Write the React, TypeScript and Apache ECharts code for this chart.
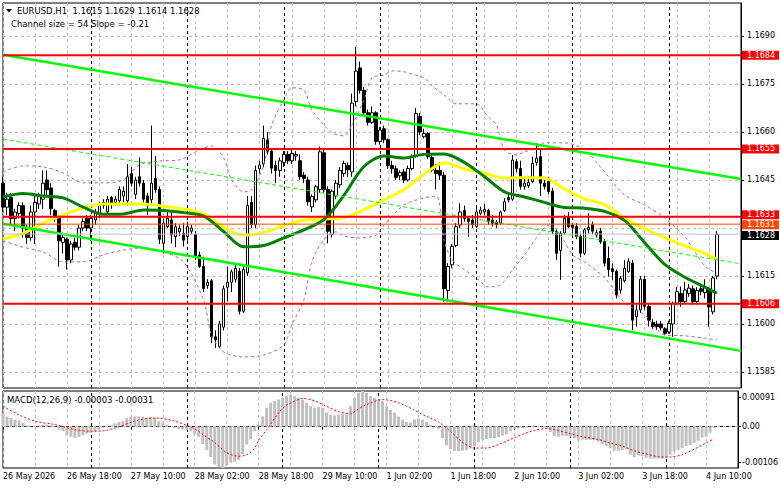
import { useEffect, useRef } from 'react';
import * as echarts from 'echarts';

const FONT = 'DejaVu Sans';
const BAR_SLOTS = 185;

const xTickLabels = ['26 May 2026', '26 May 18:00', '27 May 10:00', '28 May 02:00', '28 May 18:00', '29 May 10:00', '1 Jun 02:00', '1 Jun 18:00', '2 Jun 10:00', '3 Jun 02:00', '3 Jun 18:00', '4 Jun 10:00'];
const dayBreakBars = [22, 46, 70, 94, 118, 142, 166];
const priceGridTicks = [1.1585, 1.16, 1.1615, 1.163, 1.1645, 1.166, 1.1675, 1.169];
const priceLabelTicks = [1.1585, 1.16, 1.1615, 1.1645, 1.166, 1.1675, 1.169];
const priceMin = 1.158;
const priceMax = 1.17003;
const macdMin = -0.00106;
const macdMax = 0.00091;

const opens = [
  1.1644, 1.16365, 1.16395, 1.1633, 1.16345, 1.1637, 1.163, 1.1627, 1.1635, 1.16375,
  1.1639, 1.1645, 1.16425, 1.16355, 1.1633, 1.16255, 1.16265, 1.162, 1.16255, 1.1624,
  1.163, 1.1633, 1.163, 1.16325, 1.16345, 1.1637, 1.1635, 1.16395, 1.1638, 1.16385,
  1.164, 1.16385, 1.1647, 1.16405, 1.1646, 1.1644, 1.164, 1.16388, 1.16455, 1.1642,
  1.16252, 1.16304, 1.16325, 1.16273, 1.16288, 1.16283, 1.16273, 1.1629, 1.1628, 1.16215,
  1.1618, 1.1612, 1.16135, 1.1596, 1.1593, 1.1599, 1.16115, 1.1613, 1.1614, 1.16165,
  1.1604, 1.1616, 1.1638, 1.1631, 1.16485, 1.165, 1.16575, 1.1654, 1.16495, 1.1648,
  1.16505, 1.1653, 1.1651, 1.16525, 1.1651, 1.16465, 1.1645, 1.16366, 1.16388, 1.1642,
  1.16535, 1.1642, 1.1628, 1.164, 1.16435, 1.1647, 1.16495, 1.16475, 1.16695, 1.168,
  1.1673, 1.1666, 1.1663, 1.1666, 1.1657, 1.1661, 1.16576, 1.16495, 1.16485, 1.16463,
  1.16475, 1.1645, 1.16486, 1.16525, 1.16648, 1.16585, 1.16595, 1.1652, 1.1648, 1.1648,
  1.16465, 1.16105, 1.16185, 1.16245, 1.16309, 1.16355, 1.1633, 1.16325, 1.16305, 1.16346,
  1.1635, 1.16355, 1.16325, 1.16318, 1.16315, 1.16355, 1.16395, 1.1639, 1.16507, 1.16486,
  1.1643, 1.16432, 1.16445, 1.16505, 1.16523, 1.1644, 1.16445, 1.16415, 1.1629, 1.1623,
  1.16285, 1.16335, 1.16309, 1.16305, 1.16273, 1.16221, 1.16295, 1.1631, 1.16278, 1.1629,
  1.16257, 1.16205, 1.16173, 1.16164, 1.16106, 1.16135, 1.16164, 1.1619, 1.16023, 1.16044,
  1.1614, 1.16055, 1.16005, 1.16, 1.16, 1.15985, 1.15975, 1.16, 1.16065, 1.16095,
  1.1607, 1.16095, 1.1611, 1.1607, 1.1611, 1.16098, 1.1611, 1.16038, 1.1615,
];
const highs = [
  1.1646, 1.1641, 1.1641, 1.1636, 1.1638, 1.1638, 1.1631, 1.1637, 1.164, 1.1641,
  1.1648, 1.1648, 1.1644, 1.1636, 1.1634, 1.1628, 1.1627, 1.1626, 1.1627, 1.1631,
  1.1633, 1.1634, 1.1634, 1.1636, 1.1638, 1.1639, 1.164, 1.164, 1.164, 1.1643,
  1.1643, 1.165, 1.1649, 1.1646, 1.1652, 1.1645, 1.1641, 1.1662, 1.16525, 1.1643,
  1.1633, 1.1635, 1.16356, 1.16315, 1.1631, 1.16315, 1.1632, 1.1631, 1.1629, 1.16226,
  1.1621, 1.1614, 1.1614, 1.1598, 1.1601, 1.1612, 1.1618, 1.1617, 1.1619, 1.16175,
  1.1618, 1.164, 1.164, 1.16495, 1.1651, 1.1662, 1.166, 1.1655, 1.1651, 1.1652,
  1.1654, 1.1654, 1.16545, 1.1654, 1.1653, 1.16475, 1.1646, 1.16405, 1.16435, 1.16554,
  1.1655, 1.1643, 1.1642, 1.1645, 1.1649, 1.1651, 1.16505, 1.1672, 1.16865, 1.1682,
  1.1674, 1.1667, 1.1668, 1.16665, 1.16615, 1.1662, 1.1658, 1.1651, 1.16495, 1.1648,
  1.16485, 1.16495, 1.1653, 1.16675, 1.1666, 1.1661, 1.166, 1.1653, 1.165, 1.16505,
  1.16475, 1.1619, 1.1625, 1.16315, 1.16377, 1.1637, 1.16335, 1.1634, 1.16372, 1.16367,
  1.16375, 1.1636, 1.1634, 1.16325, 1.16355, 1.16393, 1.1641, 1.16528, 1.16515, 1.1651,
  1.16455, 1.1646, 1.16523, 1.16565, 1.1655, 1.1645, 1.1646, 1.16425, 1.16295, 1.1629,
  1.1634, 1.1635, 1.16315, 1.16315, 1.1628, 1.163, 1.16346, 1.1632, 1.16295, 1.163,
  1.16265, 1.16242, 1.16189, 1.1617, 1.1615, 1.162, 1.16205, 1.162, 1.16059, 1.1615,
  1.1615, 1.16065, 1.16015, 1.1601, 1.1601, 1.1599, 1.1601, 1.1607, 1.16115, 1.16117,
  1.16132, 1.16125, 1.1612, 1.16115, 1.1612, 1.1614, 1.16115, 1.1615, 1.1629,
];
const lows = [
  1.1635, 1.1634, 1.1631, 1.1629, 1.1633, 1.1627, 1.1625, 1.1626, 1.1625, 1.1636,
  1.1636, 1.164, 1.1634, 1.1632, 1.1618, 1.1622, 1.1617, 1.1619, 1.1623, 1.1623,
  1.1629, 1.1629, 1.1626, 1.1631, 1.1633, 1.1636, 1.1634, 1.1636, 1.1637, 1.1637,
  1.1638, 1.1637, 1.1643, 1.1639, 1.1643, 1.1638, 1.1634, 1.1637, 1.1641, 1.1625,
  1.1622, 1.163, 1.16252, 1.1624, 1.16275, 1.16242, 1.1626, 1.1628, 1.162, 1.16175,
  1.161, 1.1611, 1.1594, 1.15925, 1.15925, 1.1598, 1.1607, 1.161, 1.1613, 1.1603,
  1.16035, 1.1615, 1.163, 1.163, 1.1647, 1.1649, 1.1653, 1.1647, 1.1644, 1.1646,
  1.1649, 1.165, 1.165, 1.1651, 1.1645, 1.1644, 1.1637, 1.1635, 1.1638, 1.1641,
  1.1641, 1.16252, 1.1627, 1.1639, 1.16425, 1.1646, 1.1646, 1.1646, 1.1668, 1.1672,
  1.1665, 1.1662, 1.16625, 1.1656, 1.1656, 1.16565, 1.16485, 1.1647, 1.1645, 1.1645,
  1.1644, 1.16445, 1.1648, 1.1652, 1.1659, 1.1658, 1.16515, 1.16475, 1.1642, 1.1645,
  1.1607, 1.1607, 1.16174, 1.1624, 1.163, 1.1632, 1.16273, 1.163, 1.163, 1.1634,
  1.1634, 1.1631, 1.16305, 1.163, 1.1631, 1.1635, 1.1638, 1.16385, 1.16475, 1.1642,
  1.1642, 1.16425, 1.1644, 1.16495, 1.164, 1.1642, 1.16405, 1.1628, 1.162, 1.16138,
  1.1628, 1.163, 1.16273, 1.16265, 1.1621, 1.16215, 1.16283, 1.1628, 1.1627, 1.1625,
  1.1618, 1.16148, 1.16138, 1.1608, 1.16095, 1.1613, 1.1616, 1.15981, 1.15992, 1.16035,
  1.16045, 1.15992, 1.15985, 1.15982, 1.1598, 1.15965, 1.1597, 1.1596, 1.1606, 1.16054,
  1.16065, 1.16085, 1.1606, 1.1606, 1.1609, 1.1608, 1.15991, 1.1603, 1.1614,
];
const closes = [
  1.16365, 1.1639, 1.1633, 1.1635, 1.1637, 1.163, 1.1627, 1.1635, 1.1638, 1.164,
  1.1644, 1.1642, 1.1636, 1.1633, 1.1626, 1.1627, 1.162, 1.1625, 1.1624, 1.163,
  1.1632, 1.163, 1.1633, 1.1635, 1.1637, 1.1638, 1.1639, 1.16375, 1.1639, 1.1642,
  1.16415, 1.1646, 1.1644, 1.1645, 1.1644, 1.1639, 1.1637, 1.1644, 1.1642, 1.16265,
  1.16315, 1.1633, 1.16278, 1.16304, 1.16299, 1.16262, 1.16304, 1.163, 1.1621, 1.1618,
  1.16111, 1.1613, 1.1596, 1.1595, 1.16, 1.1611, 1.1613, 1.16163, 1.16174, 1.1604,
  1.1617, 1.1637, 1.1631, 1.1648, 1.16497, 1.1658, 1.1654, 1.16487, 1.1648, 1.1651,
  1.1653, 1.1651, 1.16533, 1.1653, 1.1646, 1.16455, 1.16382, 1.16398, 1.16429, 1.16538,
  1.1642, 1.1629, 1.16415, 1.1644, 1.1648, 1.16502, 1.16482, 1.1669, 1.1679, 1.1673,
  1.1666, 1.1663, 1.1666, 1.1657, 1.16606, 1.16576, 1.16495, 1.16485, 1.16458, 1.16473,
  1.1645, 1.16486, 1.16523, 1.16658, 1.166, 1.16595, 1.16523, 1.16481, 1.1647, 1.16465,
  1.1611, 1.1618, 1.16242, 1.16304, 1.1635, 1.1633, 1.1632, 1.1631, 1.1635, 1.16356,
  1.16358, 1.1632, 1.16315, 1.1631, 1.1635, 1.16382, 1.16388, 1.16512, 1.16486, 1.1643,
  1.1644, 1.16442, 1.16502, 1.16518, 1.1644, 1.1643, 1.16414, 1.1629, 1.16221, 1.16283,
  1.1633, 1.16304, 1.16302, 1.16273, 1.16221, 1.16294, 1.16302, 1.1629, 1.16285, 1.16257,
  1.1619, 1.1617, 1.16164, 1.16091, 1.16143, 1.16174, 1.16195, 1.16012, 1.16044, 1.1614,
  1.16055, 1.16012, 1.15992, 1.15992, 1.15988, 1.15971, 1.16002, 1.16065, 1.16101, 1.1607,
  1.16106, 1.16112, 1.1607, 1.16105, 1.16102, 1.16115, 1.16053, 1.16144, 1.1628,
];

const macdValues = [
  0.00035, 0.00026, 0.00022, 0.00018, 0.00016, 0.00009, 0.00003, 0.00001, 0.0, 0.00003,
  0.00005, 0.00005, 0.00003, -0.00001, -0.00008, -0.00012, -0.00023, -0.00026, -0.00029, -0.00026,
  -0.00023, -0.00018, -0.00016, -0.00012, -0.00009, -0.00003, 0.00001, 0.00003, 0.00008, 0.00012,
  0.00014, 0.00022, 0.00025, 0.00026, 0.00026, 0.00025, 0.00022, 0.00025, 0.00022, 0.00014,
  0.00009, 0.00005, 0.00001, -0.00003, -0.00006, -0.00008, -0.00009, -0.00012, -0.0002, -0.00026,
  -0.00045, -0.0006, -0.00078, -0.00097, -0.00104, -0.00106, -0.001, -0.00092, -0.0009, -0.00085,
  -0.0007, -0.00046, -0.00033, -0.00012, 0.00005, 0.00026, 0.00048, 0.00061, 0.00065, 0.00069,
  0.00073, 0.00078, 0.00082, 0.00078, 0.00073, 0.00069, 0.00061, 0.00052, 0.00048, 0.0005,
  0.00048, 0.00036, 0.0003, 0.00028, 0.00031, 0.00033, 0.00031, 0.00052, 0.00073, 0.00086,
  0.00091, 0.00086, 0.00078, 0.00073, 0.00069, 0.00065, 0.00052, 0.00043, 0.00035, 0.00026,
  0.00018, 0.00012, 0.0001, 0.00018, 0.0002, 0.00018, 0.00012, 0.00004, -0.00002, -0.00006,
  -0.0003, -0.00048, -0.00058, -0.00062, -0.00063, -0.00062, -0.0006, -0.00056, -0.0005, -0.0004,
  -0.00034, -0.00032, -0.0003, -0.0003, -0.00027, -0.00023, -0.0002, -0.00012, -0.00006, -0.00005,
  -0.00004, -0.00003, 0.0, 0.00003, 0.00001, -0.00002, -0.00004, -0.00014, -0.00024, -0.00026,
  -0.00024, -0.00024, -0.00026, -0.0003, -0.00036, -0.00034, -0.00034, -0.00034, -0.00035, -0.00038,
  -0.00045, -0.0005, -0.00054, -0.00062, -0.00062, -0.0006, -0.00058, -0.00072, -0.00078, -0.00074,
  -0.00076, -0.0008, -0.00082, -0.00082, -0.00082, -0.00082, -0.0008, -0.00072, -0.00064, -0.0006,
  -0.00055, -0.0005, -0.00048, -0.00042, -0.00036, -0.00028, -0.00026, -0.00016, -0.00003,
];

const signalPoints = [
  [0, 0.00052], [4, 0.0003], [8, 0.00014], [13, 0.00005], [18, -0.00008], [22, -0.00012], [25, -0.00011],
  [28, -0.00004], [33, 0.00014], [38, 0.00022], [43, 0.00014], [48, -0.00006], [50, -0.0002], [53, -0.00041],
  [56, -0.00067], [59, -0.00076], [61, -0.00072], [63, -0.00055], [64, -0.00035], [66, -0.00008], [69, 0.00035],
  [71, 0.00055], [73, 0.00065], [75, 0.00072], [78, 0.00066], [81, 0.00052], [84, 0.00038], [87, 0.00033],
  [89, 0.00045], [91, 0.00056], [95, 0.00069], [99, 0.00061], [103, 0.00042], [106, 0.00026], [109, 0.00012],
  [112, -0.00012], [115, -0.0004], [118, -0.00055], [121, -0.00055], [124, -0.00046], [127, -0.00033],
  [130, -0.0002], [133, -0.0001], [136, -0.00005], [139, -0.0001], [142, -0.00018], [145, -0.00026],
  [149, -0.00033], [152, -0.00042], [155, -0.0005], [158, -0.00062], [161, -0.0007], [164, -0.00077],
  [167, -0.00078], [170, -0.00072], [173, -0.00058], [176, -0.00042], [178, -0.00031],
];

const yellowMaPoints = [
  [0, 1.16265], [5, 1.16283], [10, 1.16315], [15, 1.16341], [20, 1.16362], [25, 1.16375], [30, 1.16375],
  [35, 1.16375], [40, 1.16368], [45, 1.16359], [50, 1.16344], [55, 1.16303], [60, 1.16277], [65, 1.16286],
  [70, 1.16307], [75, 1.16324], [80, 1.16328], [85, 1.16333], [90, 1.16357], [95, 1.16388], [100, 1.1642],
  [105, 1.16468], [110, 1.16504], [115, 1.16485], [120, 1.16471], [125, 1.16456], [130, 1.16458],
  [135, 1.16456], [140, 1.16422], [145, 1.16391], [150, 1.16373], [155, 1.1633], [160, 1.16297],
  [165, 1.1627], [170, 1.16244], [175, 1.16221], [178, 1.16202],
];
const greenMaPoints = [
  [0, 1.16397], [5, 1.16408], [10, 1.164], [15, 1.16394], [20, 1.16365], [25, 1.16343], [30, 1.16344],
  [35, 1.16356], [40, 1.16355], [45, 1.16348], [50, 1.16338], [55, 1.16289], [60, 1.16241], [65, 1.16245],
  [70, 1.16269], [75, 1.16294], [80, 1.16326], [85, 1.16402], [90, 1.16492], [95, 1.16525], [100, 1.16519],
  [105, 1.1653], [110, 1.16531], [115, 1.16505], [120, 1.16461], [125, 1.16413], [130, 1.16397],
  [135, 1.1638], [140, 1.16364], [145, 1.16362], [150, 1.16352], [155, 1.16323], [160, 1.16254],
  [165, 1.16186], [170, 1.16146], [175, 1.16115], [178, 1.16096],
];
const upperBandPoints = [
  [0, 1.16475], [5, 1.16494], [10, 1.16491], [15, 1.16472], [20, 1.16441], [25, 1.16441], [30, 1.1645],
  [34, 1.16497], [39, 1.16509], [44, 1.16513], [49, 1.16544], [52, 1.16556], [55, 1.16519], [57, 1.1645],
  [60, 1.16413], [62, 1.16419], [65, 1.16497], [67, 1.16622], [70, 1.167], [72, 1.16738], [75, 1.16731],
  [77, 1.16669], [80, 1.16622], [82, 1.16597], [85, 1.16588], [87, 1.16622], [90, 1.167], [92, 1.16769],
  [95, 1.16778], [97, 1.16791], [100, 1.16788], [102, 1.16781], [105, 1.16769], [107, 1.16744], [110, 1.16716],
  [113, 1.16688], [118, 1.16688], [121, 1.16647], [123, 1.16622], [125, 1.16544], [128, 1.16528], [130, 1.16538],
  [133, 1.1655], [135, 1.16566], [140, 1.16566], [145, 1.16544], [150, 1.16475], [155, 1.16403], [160, 1.16372],
  [165, 1.16331], [170, 1.16272], [175, 1.16181], [178, 1.16159],
];
const lowerBandPoints = [
  [0, 1.1626], [5, 1.1624], [10, 1.16225], [15, 1.16194], [20, 1.16194], [25, 1.16216], [30, 1.16231],
  [35, 1.16238], [40, 1.16225], [45, 1.16194], [50, 1.16075], [52, 1.15966], [55, 1.15913], [60, 1.15897],
  [65, 1.15903], [70, 1.15934], [72, 1.15997], [75, 1.16075], [77, 1.16194], [80, 1.16263], [83, 1.16288],
  [85, 1.16275], [89, 1.16269], [93, 1.16278], [95, 1.16309], [100, 1.16372], [105, 1.16394], [108, 1.164],
  [110, 1.1626], [112, 1.162], [115, 1.1617], [118, 1.16144], [121, 1.16116], [124, 1.16122], [127, 1.16169],
  [130, 1.16216], [133, 1.16269], [136, 1.16309], [139, 1.16278], [142, 1.16216], [145, 1.16194], [150, 1.16144],
  [155, 1.16066], [160, 1.16028], [165, 1.15966], [170, 1.15963], [175, 1.15956], [178, 1.1595],
];
const channelUpperPoints = [[0, 1.16841], [184, 1.16453]];
const channelLowerPoints = [[0, 1.16313], [184, 1.15916]];
const channelMidPoints = [[0, 1.16578], [184, 1.16188]];

const levelPrices = [1.1684, 1.16547, 1.16335, 1.16312, 1.16281, 1.16063];
const levelTexts = ['1.1684', '1.1655', '1.1633', '1.1631', '1.1628', '1.1606'];

const titleText = 'EURUSD,H1  1.1615 1.1629 1.1614 1.1628';
const channelText = 'Channel size = 54 Slope = -0.21';
const macdText = 'MACD(12,26,9) -0.00003 -0.00031';

const levelStyles = [
  { line: '#ff0000', width: 2, box: '#ff0000', dy: 0 },
  { line: '#ff0000', width: 2, box: '#ff0000', dy: 0 },
  { line: '#ff0000', width: 2, box: '#ff0000', dy: -2 },
  { line: '#ff4500', width: 1, box: '#ff4500', dy: 0.5 },
  { line: '#c0c0c0', width: 1, box: '#000000', dy: 1.5 },
  { line: '#ff0000', width: 2, box: '#ff0000', dy: 0 },
];

export default function App() {
  const ref = useRef<HTMLDivElement>(null);

  useEffect(() => {
    if (!ref.current) return;
    const chart = echarts.init(ref.current, undefined, { renderer: 'svg' });
    const categories = Array.from({ length: BAR_SLOTS }, (_, i) => String(i));
    const candleData = opens.map((o, i) => [o, closes[i], lows[i], highs[i]]);
    const gridLine = { color: '#c0c0c0', type: [3, 3] as number[], width: 1 };
    const macdInset = ((macdMax - macdMin) * 6) / 77;
    const lastSlot = BAR_SLOTS - 1;

    const levelSeries = levelPrices.map((v, i) => ({
      type: 'line',
      xAxisIndex: 0,
      yAxisIndex: 0,
      data: [[0, v], [lastSlot, v]],
      symbol: 'none',
      silent: true,
      z: 5,
      lineStyle: { color: levelStyles[i].line, width: levelStyles[i].width },
      endLabel: {
        show: true,
        formatter: levelTexts[i],
        color: '#ffffff',
        backgroundColor: levelStyles[i].box,
        padding: [0, 4, 0, 5],
        fontSize: 8,
        lineHeight: 9,
        fontFamily: FONT,
        distance: 1,
        offset: [0, levelStyles[i].dy],
      },
    }));
    const dayMarks = dayBreakBars.map((b) => ({ xAxis: b }));
    const dayLineStyle = { color: '#000000', width: 1, type: [3, 3] as number[] };

    const xAxisBase = {
      type: 'category',
      data: categories,
      boundaryGap: false,
      splitLine: { show: true, interval: 7, lineStyle: gridLine },
    };

    const option: any = {
      animation: false,
      backgroundColor: '#ffffff',
      textStyle: { fontFamily: FONT },
      grid: [
        { left: 3, top: 3, width: 738, height: 385, show: true, borderColor: '#000', borderWidth: 1, backgroundColor: 'transparent' },
        { left: 3, top: 391, width: 738, height: 77, show: true, borderColor: '#000', borderWidth: 1, backgroundColor: 'transparent' },
      ],
      xAxis: [
        {
          ...xAxisBase,
          gridIndex: 0,
          axisLine: { show: false },
          axisTick: { show: false },
          axisLabel: { show: false },
        },
        {
          ...xAxisBase,
          gridIndex: 1,
          axisLine: { show: true, lineStyle: { color: '#000', width: 1 } },
          axisTick: { show: true, interval: 15, length: 3, lineStyle: { color: '#000' } },
          axisLabel: {
            show: true,
            interval: 15,
            align: 'left',
            margin: 4,
            fontSize: 8,
            color: '#000',
            fontFamily: FONT,
            formatter: (_v: string, i: number) => xTickLabels[i / 16] ?? '',
          },
        },
      ],
      yAxis: [
        {
          type: 'value',
          gridIndex: 0,
          position: 'right',
          min: priceMin,
          max: priceMax,
          axisLine: { show: true, lineStyle: { color: '#000' } },
          axisTick: { show: true, length: 3, customValues: priceGridTicks, lineStyle: { color: '#000' } },
          axisLabel: {
            show: true,
            customValues: priceLabelTicks,
            formatter: (v: number) => v.toFixed(4),
            margin: 6,
            fontSize: 8,
            color: '#000',
            fontFamily: FONT,
          },
          splitLine: { show: true, lineStyle: gridLine },
        },
        {
          type: 'value',
          gridIndex: 1,
          position: 'right',
          min: macdMin,
          max: macdMax,
          axisLine: { show: true, lineStyle: { color: '#000' } },
          axisTick: { show: true, length: 3, customValues: [macdMax - macdInset, 0, macdMin + macdInset], lineStyle: { color: '#000' } },
          axisLabel: {
            show: true,
            customValues: [macdMax - macdInset, 0, macdMin + macdInset],
            formatter: (v: number) => (v > 1e-6 ? macdMax.toFixed(5) : v < -1e-6 ? macdMin.toFixed(5) : '0.00'),
            margin: 4,
            fontSize: 8,
            color: '#000',
            fontFamily: FONT,
          },
          splitLine: { show: false },
        },
      ],
      series: [
        {
          type: 'candlestick',
          xAxisIndex: 0,
          yAxisIndex: 0,
          data: candleData,
          barWidth: 3,
          z: 2,
          itemStyle: { color: '#ffffff', color0: '#000000', borderColor: '#000000', borderColor0: '#000000', borderWidth: 1 },
          markLine: { silent: true, symbol: 'none', z: 1, label: { show: false }, lineStyle: dayLineStyle, data: dayMarks },
        },
        {
          type: 'line', xAxisIndex: 0, yAxisIndex: 0, data: upperBandPoints, symbol: 'none', smooth: 0.3, z: 3,
          lineStyle: { color: '#ba55d3', width: 1, type: [3, 3] },
        },
        {
          type: 'line', xAxisIndex: 0, yAxisIndex: 0, data: lowerBandPoints, symbol: 'none', smooth: 0.3, z: 3,
          lineStyle: { color: '#ba55d3', width: 1, type: [3, 3] },
        },
        {
          type: 'line', xAxisIndex: 0, yAxisIndex: 0, data: yellowMaPoints, symbol: 'none', smooth: 0.3, z: 3,
          lineStyle: { color: '#ffff00', width: 3 },
        },
        {
          type: 'line', xAxisIndex: 0, yAxisIndex: 0, data: greenMaPoints, symbol: 'none', smooth: 0.3, z: 3,
          lineStyle: { color: '#008000', width: 3 },
        },
        {
          type: 'line', xAxisIndex: 0, yAxisIndex: 0, data: channelUpperPoints, symbol: 'none', z: 4,
          lineStyle: { color: '#00ff00', width: 2.5 },
        },
        {
          type: 'line', xAxisIndex: 0, yAxisIndex: 0, data: channelLowerPoints, symbol: 'none', z: 4,
          lineStyle: { color: '#00ff00', width: 2.5 },
        },
        {
          type: 'line', xAxisIndex: 0, yAxisIndex: 0, data: channelMidPoints, symbol: 'none', z: 4,
          lineStyle: { color: '#00ff00', width: 1, type: [4, 3] },
        },
        ...levelSeries,
        {
          type: 'bar', xAxisIndex: 1, yAxisIndex: 1, data: macdValues, barWidth: 3, z: 2,
          itemStyle: { color: '#c0c0c0' },
          markLine: {
            silent: true, symbol: 'none', z: 1, label: { show: false },
            data: [
              { yAxis: 0, lineStyle: gridLine },
              ...dayMarks.map((d) => ({ ...d, lineStyle: dayLineStyle })),
            ],
          },
        },
        {
          type: 'line', xAxisIndex: 1, yAxisIndex: 1, data: signalPoints, symbol: 'none', smooth: 0.3, z: 3,
          lineStyle: { color: '#ff0000', width: 1, type: [2, 2] },
        },
      ],
      graphic: [
        { type: 'polygon', z: 10, shape: { points: [[6, 9], [12, 9], [9, 12.5]] }, style: { fill: '#000' } },
        { type: 'text', z: 10, x: 17, y: 11, style: { text: titleText, fill: '#000', font: `8.5px "${FONT}"`, verticalAlign: 'middle' } },
        { type: 'text', z: 10, x: 11, y: 24, style: { text: channelText, fill: '#000', font: `8.5px "${FONT}"`, verticalAlign: 'middle' } },
        { type: 'text', z: 10, x: 7, y: 400, style: { text: macdText, fill: '#000', font: `8.5px "${FONT}"`, verticalAlign: 'middle' } },
      ],
    };

    chart.setOption(option);
    return () => chart.dispose();
  }, []);

  return <div ref={ref} style={{ position: 'fixed', left: 0, top: 0, width: 781, height: 489, background: '#fff' }} />;
}
